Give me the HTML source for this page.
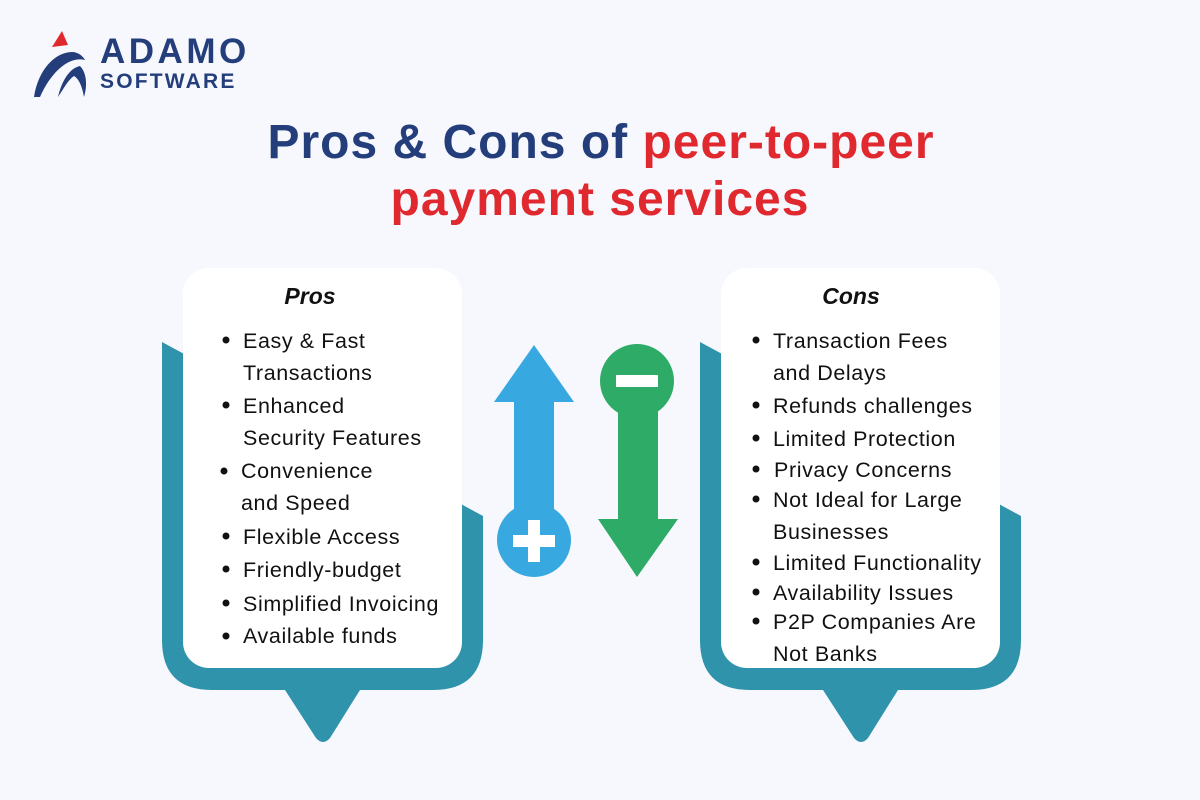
<!DOCTYPE html>
<html><head><meta charset="utf-8"><style>
html,body{margin:0;padding:0;background:#f7f8fd;}
svg{display:block}
.t{font-family:"Liberation Sans",sans-serif;font-size:21.5px;fill:#111;letter-spacing:0.6px;}
</style></head><body>
<svg width="1200" height="800" viewBox="0 0 1200 800" xmlns="http://www.w3.org/2000/svg">
<rect width="1200" height="800" fill="#f7f8fd"/>
<!-- logo -->
<polygon points="52,47 62,31 68,45" fill="#e0282f"/>
<path d="M34,97 C38,70 55,52 72,52 C78,52 83,56 85,60 C70,56 52,70 40,97 Z" fill="#233e7b"/>
<path d="M58,97 C62,80 70,68 80,66 C86,72 88,84 84,97 C82,85 78,78 74,76 C68,80 64,88 58,97 Z" fill="#233e7b"/>
<text x="100" y="63" font-family="Liberation Sans,sans-serif" font-weight="bold" font-size="35" fill="#233e7b" letter-spacing="3.5">ADAMO</text>
<text x="100" y="88" font-family="Liberation Sans,sans-serif" font-weight="bold" font-size="21" fill="#233e7b" letter-spacing="2.2">SOFTWARE</text>
<!-- title -->
<text x="601" y="158" text-anchor="middle" font-family="Liberation Sans,sans-serif" font-weight="bold" font-size="48" letter-spacing="1"><tspan fill="#233e7b">Pros &amp; Cons of </tspan><tspan fill="#e0282f">peer-to-peer</tspan></text>
<text x="600" y="215" text-anchor="middle" font-family="Liberation Sans,sans-serif" font-weight="bold" font-size="48" fill="#e0282f" letter-spacing="1">payment services</text>
<!-- pros teal -->
<path d="M162,342 L483,516 L483,640 Q483,690 433,690 L360,690 L330,738 Q323,746 316,738 L285,690 L212,690 Q162,690 162,640 Z" fill="#2e93ab"/>
<rect x="183" y="268" width="279" height="400" rx="26" fill="#fff"/>
<path d="M700,342 L1021,516 L1021,640 Q1021,690 971,690 L898,690 L868,738 Q861,746 854,738 L823,690 L750,690 Q700,690 700,640 Z" fill="#2e93ab"/>
<rect x="721" y="268" width="279" height="400" rx="26" fill="#fff"/>
<text x="310" y="304" text-anchor="middle" font-family="Liberation Sans,sans-serif" font-weight="bold" font-style="italic" font-size="23" fill="#111">Pros</text>
<text x="851" y="304" text-anchor="middle" font-family="Liberation Sans,sans-serif" font-weight="bold" font-style="italic" font-size="23" fill="#111">Cons</text>
<g fill="#111">
<circle cx="226" cy="340" r="3.5"/><circle cx="226" cy="405" r="3.5"/><circle cx="224" cy="471" r="3.5"/><circle cx="226" cy="536" r="3.5"/><circle cx="226" cy="569" r="3.5"/><circle cx="226" cy="603" r="3.5"/><circle cx="226" cy="636" r="3.5"/>
<circle cx="756" cy="340" r="3.5"/><circle cx="756" cy="405" r="3.5"/><circle cx="756" cy="438" r="3.5"/><circle cx="756" cy="469" r="3.5"/><circle cx="756" cy="499" r="3.5"/><circle cx="756" cy="562" r="3.5"/><circle cx="756" cy="592" r="3.5"/><circle cx="756" cy="621" r="3.5"/>
</g>
<text class="t" x="243" y="348">Easy &amp; Fast</text>
<text class="t" x="243" y="380">Transactions</text>
<text class="t" x="243" y="413">Enhanced</text>
<text class="t" x="243" y="445">Security Features</text>
<text class="t" x="241" y="478">Convenience</text>
<text class="t" x="241" y="510">and Speed</text>
<text class="t" x="243" y="544">Flexible Access</text>
<text class="t" x="243" y="577">Friendly-budget</text>
<text class="t" x="243" y="611">Simplified Invoicing</text>
<text class="t" x="243" y="643">Available funds</text>
<text class="t" x="773" y="348">Transaction Fees</text>
<text class="t" x="773" y="380">and Delays</text>
<text class="t" x="773" y="413">Refunds challenges</text>
<text class="t" x="773" y="446">Limited Protection</text>
<text class="t" x="774" y="477">Privacy Concerns</text>
<text class="t" x="773" y="507">Not Ideal for Large</text>
<text class="t" x="773" y="539">Businesses</text>
<text class="t" x="773" y="570">Limited Functionality</text>
<text class="t" x="773" y="600">Availability Issues</text>
<text class="t" x="773" y="629">P2P Companies Are</text>
<text class="t" x="773" y="661">Not Banks</text>
<!-- blue arrow -->
<polygon points="534,345 574,402 554,402 554,520 514,520 514,402 494,402" fill="#38a8e0"/>
<circle cx="534" cy="540" r="37" fill="#38a8e0"/>
<rect x="513" y="535" width="42" height="12" fill="#fff"/>
<rect x="528" y="520" width="12" height="42" fill="#fff"/>
<!-- green arrow -->
<circle cx="637" cy="381" r="37" fill="#2eac67"/>
<polygon points="618,381 658,381 658,519 678,519 637,577 598,519 618,519" fill="#2eac67"/>
<rect x="616" y="375" width="42" height="12" fill="#fff"/>
</svg>
</body></html>
